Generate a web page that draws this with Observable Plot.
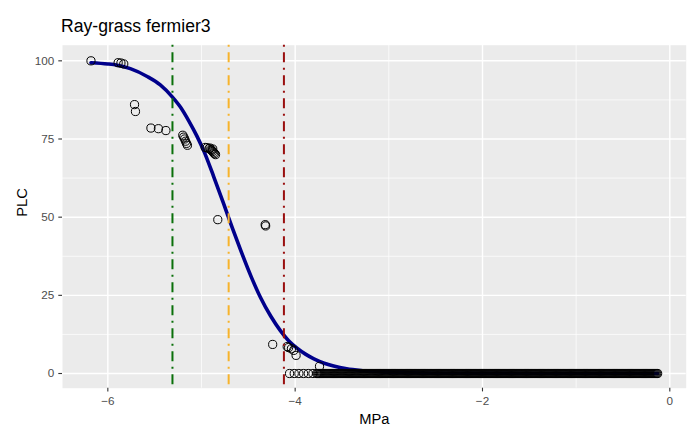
<!DOCTYPE html>
<html>
<head>
<meta charset="utf-8">
<script src="https://cdn.jsdelivr.net/npm/d3@7"></script>
<script src="https://cdn.jsdelivr.net/npm/@observablehq/plot@0.6"></script>
<style>
  html, body { margin: 0; padding: 0; background: #ffffff; }
  #wrap { position: relative; width: 698px; height: 426px; font-family: "Liberation Sans", Arial, sans-serif; }
  #title { position: absolute; left: 61px; top: 18px; font-size: 17.6px; line-height: 1; color: #000; white-space: nowrap; }
  #chart { position: absolute; left: 0; top: 30px; }
</style>
</head>
<body>
<div id="wrap">
  <div id="title">Ray-grass fermier3</div>
  <div id="chart"></div>
</div>
<script>
// Observed points (MPa, PLC)
const pointMPa = [-6.18, -5.89, -5.86, -5.83, -5.715, -5.705, -5.54, -5.46, -5.38,
  -5.20, -5.19, -5.18, -5.17, -5.16, -5.15,
  -4.96, -4.94, -4.92, -4.91, -4.90, -4.89, -4.88, -4.87, -4.86, -4.85, -4.88,
  -4.826, -4.32, -4.315,
  -4.24, -4.085, -4.07, -4.04, -4.015, -3.99, -3.74,
  -4.06, -4.01, -3.96, -3.91, -3.86, -3.81];
const pointPLC = [100, 99.4, 99.3, 99.0, 86.0, 83.8, 78.5, 78.3, 77.7,
  76.2, 75.6, 75.0, 74.3, 73.6, 73.0,
  72.3, 72.2, 71.9, 72.1, 71.6, 71.3, 71.0, 70.6, 70.3, 70.0, 71.8,
  49.2, 47.6, 47.2,
  9.3, 8.6, 8.3, 7.9, 7.4, 5.8, 2.3,
  0, 0, 0, 0, 0, 0];
// Dense run of points at PLC = 0
const zeroMPa = [
-3.77,-3.76,-3.75,-3.74,-3.73,-3.72,-3.71,
-3.70,-3.69,-3.68,-3.67,-3.66,-3.65,-3.64,-3.63,-3.62,-3.61,
-3.60,-3.59,-3.58,-3.57,-3.56,-3.55,-3.54,-3.53,-3.52,-3.51,
-3.50,-3.49,-3.48,-3.47,-3.46,-3.45,-3.44,-3.43,-3.42,-3.41,
-3.40,-3.39,-3.38,-3.37,-3.36,-3.35,-3.34,-3.33,-3.32,-3.31,
-3.30,-3.29,-3.28,-3.27,-3.26,-3.25,-3.24,-3.23,-3.22,-3.21,
-3.20,-3.19,-3.18,-3.17,-3.16,-3.15,-3.14,-3.13,-3.12,-3.11,
-3.10,-3.09,-3.08,-3.07,-3.06,-3.05,-3.04,-3.03,-3.02,-3.01,
-3.00,-2.99,-2.98,-2.97,-2.96,-2.95,-2.94,-2.93,-2.92,-2.91,
-2.90,-2.89,-2.88,-2.87,-2.86,-2.85,-2.84,-2.83,-2.82,-2.81,
-2.80,-2.79,-2.78,-2.77,-2.76,-2.75,-2.74,-2.73,-2.72,-2.71,
-2.70,-2.69,-2.68,-2.67,-2.66,-2.65,-2.64,-2.63,-2.62,-2.61,
-2.60,-2.59,-2.58,-2.57,-2.56,-2.55,-2.54,-2.53,-2.52,-2.51,
-2.50,-2.49,-2.48,-2.47,-2.46,-2.45,-2.44,-2.43,-2.42,-2.41,
-2.40,-2.39,-2.38,-2.37,-2.36,-2.35,-2.34,-2.33,-2.32,-2.31,
-2.30,-2.29,-2.28,-2.27,-2.26,-2.25,-2.24,-2.23,-2.22,-2.21,
-2.20,-2.19,-2.18,-2.17,-2.16,-2.15,-2.14,-2.13,-2.12,-2.11,
-2.10,-2.09,-2.08,-2.07,-2.06,-2.05,-2.04,-2.03,-2.02,-2.01,
-2.00,-1.99,-1.98,-1.97,-1.96,-1.95,-1.94,-1.93,-1.92,-1.91,
-1.90,-1.89,-1.88,-1.87,-1.86,-1.85,-1.84,-1.83,-1.82,-1.81,
-1.80,-1.79,-1.78,-1.77,-1.76,-1.75,-1.74,-1.73,-1.72,-1.71,
-1.70,-1.69,-1.68,-1.67,-1.66,-1.65,-1.64,-1.63,-1.62,-1.61,
-1.60,-1.59,-1.58,-1.57,-1.56,-1.55,-1.54,-1.53,-1.52,-1.51,
-1.50,-1.49,-1.48,-1.47,-1.46,-1.45,-1.44,-1.43,-1.42,-1.41,
-1.40,-1.39,-1.38,-1.37,-1.36,-1.35,-1.34,-1.33,-1.32,-1.31,
-1.30,-1.29,-1.28,-1.27,-1.26,-1.25,-1.24,-1.23,-1.22,-1.21,
-1.20,-1.19,-1.18,-1.17,-1.16,-1.15,-1.14,-1.13,-1.12,-1.11,
-1.10,-1.09,-1.08,-1.07,-1.06,-1.05,-1.04,-1.03,-1.02,-1.01,
-1.00,-0.99,-0.98,-0.97,-0.96,-0.95,-0.94,-0.93,-0.92,-0.91,
-0.90,-0.89,-0.88,-0.87,-0.86,-0.85,-0.84,-0.83,-0.82,-0.81,
-0.80,-0.79,-0.78,-0.77,-0.76,-0.75,-0.74,-0.73,-0.72,-0.71,
-0.70,-0.69,-0.68,-0.67,-0.66,-0.65,-0.64,-0.63,-0.62,-0.61,
-0.60,-0.59,-0.58,-0.57,-0.56,-0.55,-0.54,-0.53,-0.52,-0.51,
-0.50,-0.49,-0.48,-0.47,-0.46,-0.45,-0.44,-0.43,-0.42,-0.41,
-0.40,-0.39,-0.38,-0.37,-0.36,-0.35,-0.34,-0.33,-0.32,-0.31,
-0.30,-0.29,-0.28,-0.27,-0.26,-0.25,-0.24,-0.23,-0.22,-0.21,
-0.20,-0.19,-0.18,-0.17,-0.16,-0.15,-0.14,-0.13];

// Fitted curve
const curveMPa = [-6.18, -6.0, -5.9, -5.76, -5.58, -5.44, -5.31, -5.22, -5.13, -5.05, -4.97, -4.87, -4.76, -4.67, -4.58, -4.47, -4.37, -4.26, -4.16, -4.07, -3.98, -3.89, -3.80, -3.69, -3.59, -3.45, -3.28, -3.0, -2.5, -2.0, -1.0, -0.13];
const curvePLC = [99.4, 99.0, 98.6, 97.5, 95.0, 92.3, 88.4, 85.0, 80.5, 76.0, 70.8, 63.0, 54.0, 46.5, 39.3, 31.0, 24.3, 18.3, 13.8, 10.5, 8.1, 6.2, 4.7, 3.3, 2.4, 1.5, 0.9, 0.4, 0.1, 0.05, 0, 0];

// Reference lines (P88, P50, P12)
const refMPa = [-5.31, -4.71, -4.12];
const refColors = ["#0a700a", "#f7b32b", "#990f0f"];

const xTicks = [-6, -4, -2, 0];
const xMinor = [-5, -3, -1];
const yTicks = [0, 25, 50, 75, 100];
const yMinor = [12.5, 37.5, 62.5, 87.5];

const points = pointMPa.map((x, i) => ({x, y: pointPLC[i]}))
  .concat(zeroMPa.map(x => ({x, y: 0})));
const curve = curveMPa.map((x, i) => ({x, y: curvePLC[i]}));
const refs = refMPa.map((x, i) => ({x, color: refColors[i]}));

const font = "Liberation Sans, Arial, sans-serif";

const plot = Plot.plot({
  width: 698,
  height: 396,
  marginTop: 14.7,
  marginBottom: 38.3,
  marginLeft: 62,
  marginRight: 12.3,
  style: {background: "transparent", fontFamily: font},
  x: {domain: [-6.484, 0.175], label: null},
  y: {domain: [-4.7, 105], label: null},
  marks: [
    Plot.frame({fill: "#EBEBEB", stroke: null}),
    Plot.ruleX(xMinor, {stroke: "white", strokeWidth: 0.71}),
    Plot.ruleY(yMinor, {stroke: "white", strokeWidth: 0.71}),
    Plot.ruleX(xTicks, {stroke: "white", strokeWidth: 1.42}),
    Plot.ruleY(yTicks, {stroke: "white", strokeWidth: 1.42}),
    Plot.axisX(xTicks, {tickSize: 3.7, tickPadding: 5, stroke: "#333333", strokeWidth: 1.1, fill: "#4D4D4D", fontSize: 11.7, label: null}),
    Plot.axisY(yTicks, {tickSize: 3.7, tickPadding: 4.5, stroke: "#333333", strokeWidth: 1.1, fill: "#4D4D4D", fontSize: 11.7, label: null}),
    Plot.line(curve, {x: "x", y: "y", stroke: "#00008B", strokeWidth: 3.6, curve: "monotone-x"}),
    Plot.dot(points, {x: "x", y: "y", r: 4.1, stroke: "black", strokeWidth: 1, fill: "none"}),
    Plot.ruleX(refs, {x: "x", stroke: "color", strokeWidth: 2, strokeDasharray: "2,5.5,10,5.5"}),
    Plot.text(["MPa"], {frameAnchor: "bottom", lineAnchor: "top", dy: 25, fontSize: 14.7, fill: "black"}),
    Plot.text(["PLC"], {frameAnchor: "left", rotate: -90, dx: -40.5, fontSize: 14.7, fill: "black"})
  ]
});
document.getElementById("chart").appendChild(plot);
</script>
</body>
</html>
